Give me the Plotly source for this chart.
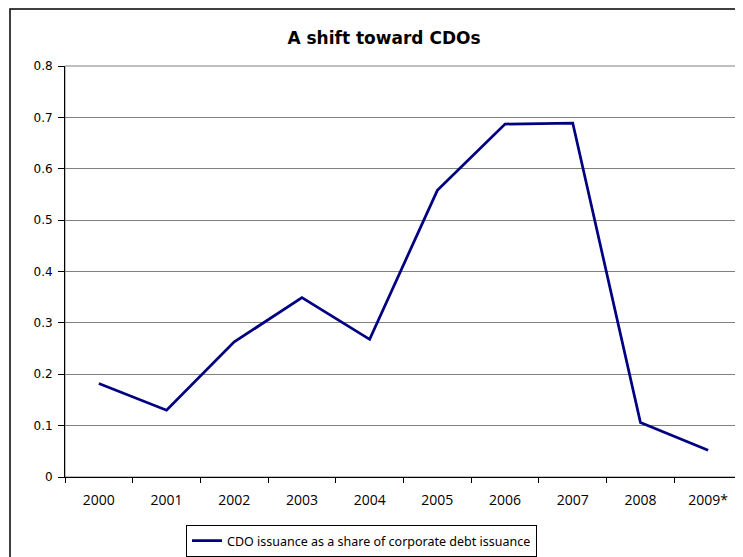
import plotly.graph_objects as go

years = ["2000", "2001", "2002", "2003", "2004", "2005", "2006", "2007", "2008", "2009*"]
cdo_share = [0.182, 0.130, 0.263, 0.349, 0.268, 0.558, 0.687, 0.689, 0.106, 0.052]
y_ticks = [0, 0.1, 0.2, 0.3, 0.4, 0.5, 0.6, 0.7, 0.8]
y_tick_labels = ["0", "0.1", "0.2", "0.3", "0.4", "0.5", "0.6", "0.7", "0.8"]
series_name = "CDO issuance as a share of corporate debt issuance"
title_text = "A shift toward CDOs"

fig = go.Figure()
fig.add_trace(go.Scatter(
    x=years, y=cdo_share, mode="lines", name=series_name,
    line=dict(color="#000080", width=2.75),
))

# the page body adds an 8px offset; figure coords = page coords - 8
W, H = 735, 549
ml, mr, mt, mb = 57, 1, 58, 79
pw = W - ml - mr
ph = H - mt - mb

def px_x(x):
    return (x - ml) / pw

def px_y(y):
    return (H - mb - y) / ph

fig.update_layout(
    width=W, height=H,
    margin=dict(l=ml, r=mr, t=mt, b=mb),
    paper_bgcolor="white", plot_bgcolor="white",
    title=dict(text="<b>" + title_text + "</b>", x=376 / W, xanchor="center",
               y=1 - 30 / H, yanchor="middle",
               font=dict(family="DejaVu Sans", size=17, color="black")),
    showlegend=True,
    legend=dict(orientation="h", x=px_x(353.5), xanchor="center", y=px_y(533), yanchor="middle",
                bordercolor="black", borderwidth=1, bgcolor="white",
                font=dict(family="Noto Sans", size=12.5, color="black")),
    xaxis=dict(type="category", range=[-0.5, 9.5], tickson="boundaries", ticks="outside", ticklen=5,
               tickcolor="black", showline=True, linecolor="black", linewidth=1, showgrid=False,
               zeroline=False, ticklabelstandoff=10,
               tickfont=dict(family="Open Sans", size=14, color="black")),
    yaxis=dict(range=[0, 0.8], tickvals=y_ticks, ticktext=y_tick_labels, ticks="outside", ticklen=6,
               tickcolor="black", showline=True, linecolor="black", linewidth=1,
               showgrid=True, gridcolor="#808080", gridwidth=1, zeroline=False,
               ticklabelstandoff=3,
               tickfont=dict(family="DejaVu Sans", size=12, color="black")),
    shapes=[
        dict(type="rect", xref="paper", yref="paper", x0=0, x1=1, y0=0, y1=1,
             line=dict(color="#808080", width=1), layer="below"),
        dict(type="rect", xref="paper", yref="paper", x0=px_x(2), x1=px_x(745), y0=px_y(560),
             y1=px_y(0.75), line=dict(color="black", width=1.5), layer="above"),
    ],
)

fig.write_html("out.html")
